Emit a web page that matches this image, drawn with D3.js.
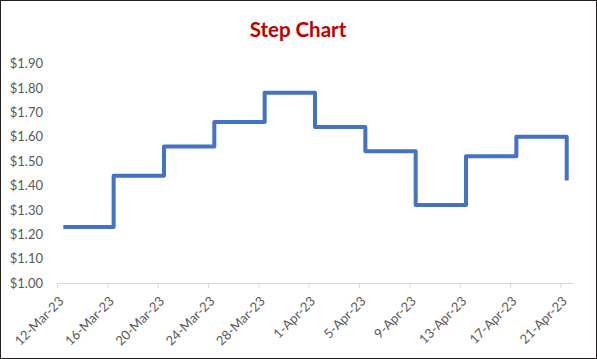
<!DOCTYPE html>
<html><head><meta charset="utf-8">
<script src="https://cdn.jsdelivr.net/npm/d3@7"></script>
<style>
html,body{margin:0;padding:0;background:#fff;}
svg{display:block;}
</style></head>
<body>
<svg id="chart" width="597" height="359"></svg>
<script>
const title = "Step Chart";
const dates = ["2023-03-12","2023-03-16","2023-03-20","2023-03-24","2023-03-28","2023-04-01","2023-04-05","2023-04-09","2023-04-13","2023-04-17","2023-04-21"];
const prices = [1.23,1.44,1.56,1.66,1.78,1.64,1.54,1.32,1.52,1.60,1.42];
const yTicks = [1.00,1.10,1.20,1.30,1.40,1.50,1.60,1.70,1.80,1.90];
const axisStart = "2023-03-12";
const axisEnd = "2023-04-22";

(function(){
const svg = d3.select("#chart");
const W = 597, H = 359;
svg.append("rect").attr("x",0.5).attr("y",0.5).attr("width",W-1).attr("height",H-1)
  .attr("fill","#fff").attr("stroke","#231f20").attr("stroke-width",1);

const parse = d3.utcParse("%Y-%m-%d");
const fmt = d3.utcFormat("%-d-%b-%y");
const data = dates.map((d,i)=>({date:parse(d), v:prices[i]}));

const pLeft = 57, pRight = 573, pTop = 63.5, pBottom = 283;
const x = d3.scaleUtc().domain([parse(axisStart), parse(axisEnd)]).range([pLeft,pRight]);
const y = d3.scaleLinear().domain([1.0,1.9]).range([pBottom,pTop]);
const halfDay = 12*3600*1000;

svg.append("text").attr("x",298).attr("y",37).attr("text-anchor","middle")
  .attr("font-family","Lato, 'Open Sans', sans-serif").attr("font-weight","bold")
  .attr("font-size",20.5).attr("fill","#C00000").text(title);

const yAxis = d3.axisLeft(y).tickValues(yTicks).tickFormat(d=>"$"+d.toFixed(2)).tickSize(0).tickPadding(0);
const gy = svg.append("g").attr("transform",`translate(43,0)`).call(yAxis);
gy.select(".domain").remove();
gy.selectAll("text").attr("font-family","Lato, sans-serif").attr("font-size",13).attr("fill","#595959");

const tickDates = dates.map(parse);
const xAxis = d3.axisBottom(x).tickValues(tickDates).tickFormat(fmt).tickSize(5).tickSizeOuter(0);
const gx = svg.append("g").attr("transform",`translate(0,${pBottom})`).call(xAxis);
gx.select(".domain").attr("stroke","#d9d9d9");
gx.selectAll(".tick line").attr("stroke","#d9d9d9");
gx.selectAll("text").attr("font-family","Lato, sans-serif").attr("font-size",13).attr("fill","#595959")
  .attr("text-anchor","end").attr("dy",null).attr("y",0)
  .attr("transform","translate(7,19) rotate(-45)");

const line = d3.line().x(d=>x(new Date(d.date.getTime()+halfDay))).y(d=>y(d.v)).curve(d3.curveStepAfter);
svg.append("path").datum(data).attr("d",line).attr("fill","none")
  .attr("stroke","#4472C4").attr("stroke-width",4).attr("stroke-linejoin","round");
})();
</script>
</body></html>
